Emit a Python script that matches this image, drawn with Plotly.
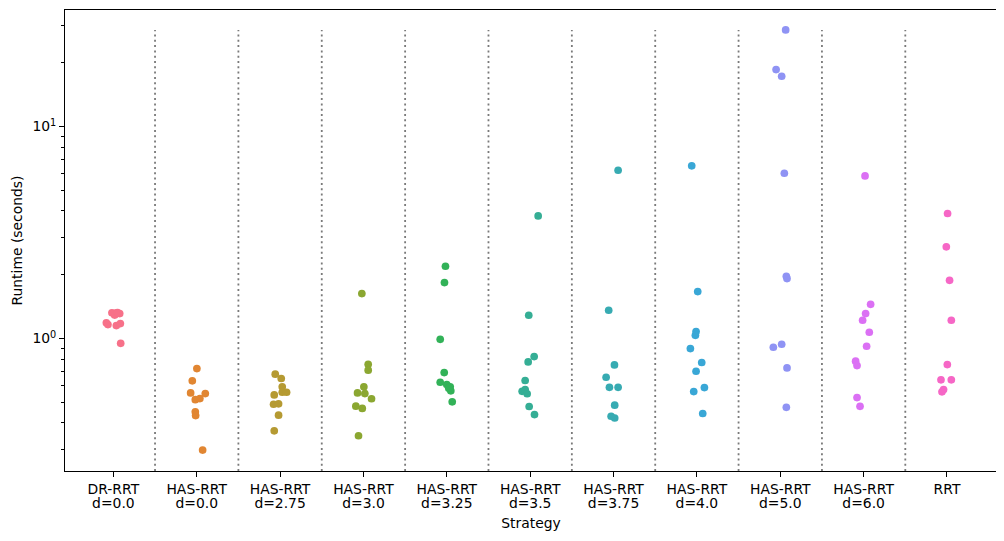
import math
import plotly.graph_objects as go

# ---------------- data ----------------
cat_method = ["DR-RRT", "HAS-RRT", "HAS-RRT", "HAS-RRT", "HAS-RRT", "HAS-RRT",
              "HAS-RRT", "HAS-RRT", "HAS-RRT", "HAS-RRT", "RRT"]
cat_param = ["d=0.0", "d=0.0", "d=2.75", "d=3.0", "d=3.25", "d=3.5",
             "d=3.75", "d=4.0", "d=5.0", "d=6.0", ""]

dr_rrt_00 = [1.322, 1.319, 1.312, 1.291, 1.186, 1.164, 1.152, 1.177, 0.950, 1.326]
has_rrt_00 = [0.722, 0.632, 0.554, 0.550, 0.515, 0.521, 0.451, 0.433, 0.298]
has_rrt_275 = [0.679, 0.648, 0.592, 0.558, 0.558, 0.542, 0.490, 0.492, 0.435, 0.367]
has_rrt_30 = [1.630, 0.756, 0.709, 0.592, 0.554, 0.550, 0.520, 0.480, 0.468, 0.348]
has_rrt_325 = [2.193, 1.837, 0.992, 0.691, 0.622, 0.607, 0.592, 0.567, 0.583, 0.503]
has_rrt_35 = [3.79, 1.288, 0.822, 0.776, 0.634, 0.564, 0.575, 0.549, 0.478, 0.438]
has_rrt_375 = [6.22, 1.360, 0.751, 0.657, 0.589, 0.589, 0.485, 0.430, 0.422]
has_rrt_40 = [6.53, 1.665, 1.079, 1.036, 0.897, 0.771, 0.701, 0.587, 0.562, 0.443]
has_rrt_50 = [28.57, 18.57, 17.27, 6.02, 1.967, 1.919, 0.940, 0.910, 0.727, 0.474]
has_rrt_60 = [5.85, 1.451, 1.312, 1.220, 1.071, 0.920, 0.782, 0.746, 0.527, 0.479]
rrt = [3.89, 2.708, 1.882, 1.220, 0.754, 0.639, 0.639, 0.575, 0.561]

# horizontal strip jitter of each point (category units)
jit_dr_rrt_00 = [-0.017, 0.028, 0.076, 0.016, -0.084, -0.065, 0.036, 0.084, 0.088, 0.050]
jit_has_rrt_00 = [0.002, -0.053, -0.073, 0.103, -0.017, 0.038, -0.017, -0.013, 0.071]
jit_has_rrt_275 = [-0.058, 0.014, 0.026, 0.026, 0.078, -0.070, -0.078, -0.018, -0.018, -0.070]
jit_has_rrt_30 = [-0.019, 0.057, 0.057, 0.005, -0.071, 0.017, 0.097, -0.091, -0.014, -0.059]
jit_has_rrt_325 = [-0.016, -0.028, -0.079, -0.031, -0.079, 0.000, 0.041, 0.048, 0.024, 0.065]
jit_has_rrt_35 = [0.096, -0.017, 0.048, -0.024, -0.060, -0.096, -0.060, -0.036, -0.012, 0.052]
jit_has_rrt_375 = [0.055, -0.058, 0.011, -0.089, -0.049, 0.055, 0.014, -0.029, 0.014]
jit_has_rrt_40 = [-0.062, 0.010, -0.010, -0.018, -0.078, 0.058, -0.010, 0.090, -0.038, 0.070]
jit_has_rrt_50 = [0.065, -0.050, 0.017, 0.049, 0.073, 0.081, 0.017, -0.083, 0.081, 0.073]
jit_has_rrt_60 = [0.017, 0.084, 0.024, -0.012, 0.068, 0.036, -0.096, -0.079, -0.079, -0.043]
jit_rrt = [0.007, -0.008, 0.031, 0.052, 0.004, -0.072, 0.052, -0.041, -0.060]

series = [dr_rrt_00, has_rrt_00, has_rrt_275, has_rrt_30, has_rrt_325, has_rrt_35,
          has_rrt_375, has_rrt_40, has_rrt_50, has_rrt_60, rrt]
jitters = [jit_dr_rrt_00, jit_has_rrt_00, jit_has_rrt_275, jit_has_rrt_30, jit_has_rrt_325,
           jit_has_rrt_35, jit_has_rrt_375, jit_has_rrt_40, jit_has_rrt_50, jit_has_rrt_60, jit_rrt]

y_major = [1, 10]
y_major_text = ["10<sup>0</sup>", "10<sup>1</sup>"]
y_minor = [0.3, 0.4, 0.5, 0.6, 0.7, 0.8, 0.9, 2, 3, 4, 5, 6, 7, 8, 9, 20, 30]

# ---------------- seaborn husl palette ----------------
_M = [[3.2406, -1.5372, -0.4986], [-0.9689, 1.8758, 0.0415], [0.0557, -0.2040, 1.0570]]
_refU, _refV = 0.19784, 0.46834
_lab_e, _lab_k = 0.008856, 903.3


def _max_chroma(L, H):
    hrad = math.radians(H)
    sinH, cosH = math.sin(hrad), math.cos(hrad)
    sub1 = (L + 16) ** 3 / 1560896.0
    sub2 = sub1 if sub1 > _lab_e else L / _lab_k
    result = float("inf")
    for m1, m2, m3 in _M:
        top = (0.99915 * m1 + 1.05122 * m2 + 1.14460 * m3) * sub2
        rbottom = 0.86330 * m3 - 0.17266 * m2
        lbottom = 0.12949 * m3 - 0.38848 * m1
        bottom = (rbottom * sinH + lbottom * cosH) * sub2
        for t in (0.0, 1.0):
            C = L * (top - 1.05122 * t) / (bottom + 0.17266 * sinH * t)
            if 0.0 < C < result:
                result = C
    return result


def _f_inv(t):
    return t ** 3 if t ** 3 > _lab_e else (116.0 * t - 16.0) / _lab_k


def _from_linear(c):
    return 12.92 * c if c <= 0.0031308 else 1.055 * c ** (1 / 2.4) - 0.055


def husl_to_hex(H, S, L):
    C = _max_chroma(L, H) / 100.0 * S
    hr = math.radians(H)
    U, V = math.cos(hr) * C, math.sin(hr) * C
    varY = _f_inv((L + 16) / 116.0)
    varU = U / (13.0 * L) + _refU
    varV = V / (13.0 * L) + _refV
    Y = varY
    X = 0.0 - (9.0 * Y * varU) / ((varU - 4.0) * varV - varU * varV)
    Z = (9.0 * Y - (15.0 * varV * Y) - (varV * X)) / (3.0 * varV)
    rgb = [_from_linear(r[0] * X + r[1] * Y + r[2] * Z) for r in _M]
    rgb = [min(max(c, 0.0), 1.0) for c in rgb]
    return "#%02x%02x%02x" % tuple(int(round(c * 255)) for c in rgb)


def husl_palette(n, h=0.01, s=0.9, l=0.65):
    hues = [((i / n) + h) % 1 * 359 for i in range(n)]
    return [husl_to_hex(hh, s * 99, l * 99) for hh in hues]


colors = husl_palette(len(cat_method))
xr = [-0.58, 10.6]

# ---------------- figure ----------------
fig = go.Figure()

vmax = max(max(s) for s in series)
vx, vy = [], []
for i in range(len(cat_method) - 1):
    vx += [i + 0.5, i + 0.5, None]
    vy += [0.01, vmax, None]
fig.add_trace(go.Scatter(x=vx, y=vy, mode="lines", showlegend=False, hoverinfo="skip",
                         xaxis="x2",
                         line=dict(color="#7a7a7a", width=1.8, dash="2px,3.3px")))

for i, (vals, jit) in enumerate(zip(series, jitters)):
    fig.add_trace(go.Scatter(
        x=[i + j for j in jit], y=vals, mode="markers", showlegend=False,
        marker=dict(color=colors[i], size=7.7, line=dict(width=0)),
        name=(cat_method[i] + " " + cat_param[i]).strip()))

font = dict(family="DejaVu Sans", size=13.9, color="black")
fig.update_layout(
    width=996, height=533, autosize=False,
    margin=dict(l=57, r=7, t=2, b=70),
    plot_bgcolor="white", paper_bgcolor="white",
    font=font,
    xaxis=dict(
        range=xr, tickmode="array", tickvals=list(range(len(cat_method))),
        ticktext=cat_method, ticks="outside", ticklen=4.9, tickwidth=1.1, tickcolor="black",
        showline=True, linecolor="black", linewidth=1.1, mirror=True,
        showgrid=False, zeroline=False, automargin=False,
        title=dict(text="Strategy", font=font, standoff=22),
        tickfont=font,
    ),
    xaxis2=dict(
        overlaying="x", anchor="y", side="bottom",
        range=xr, tickmode="array", tickvals=list(range(len(cat_param))),
        ticktext=cat_param, ticks="outside", ticklen=4.9, tickcolor="rgba(0,0,0,0)",
        ticklabelstandoff=14,
        showline=False, showgrid=False, zeroline=False, automargin=False,
        tickfont=font,
    ),
    yaxis=dict(
        type="log", range=[-0.6247, 1.5497],
        tickmode="array", tickvals=y_major, ticktext=y_major_text,
        ticks="outside", ticklen=4.9, tickwidth=1.1, tickcolor="black",
        minor=dict(tickmode="array", tickvals=y_minor, ticks="outside", ticklen=2.8,
                   tickwidth=0.9, tickcolor="black", showgrid=False),
        showline=True, linecolor="black", linewidth=1.1, mirror=True,
        showgrid=False, zeroline=False, automargin=False,
        title=dict(text="Runtime (seconds)", font=font, standoff=6),
        tickfont=font,
    ),
)

fig.write_html("out.html")
